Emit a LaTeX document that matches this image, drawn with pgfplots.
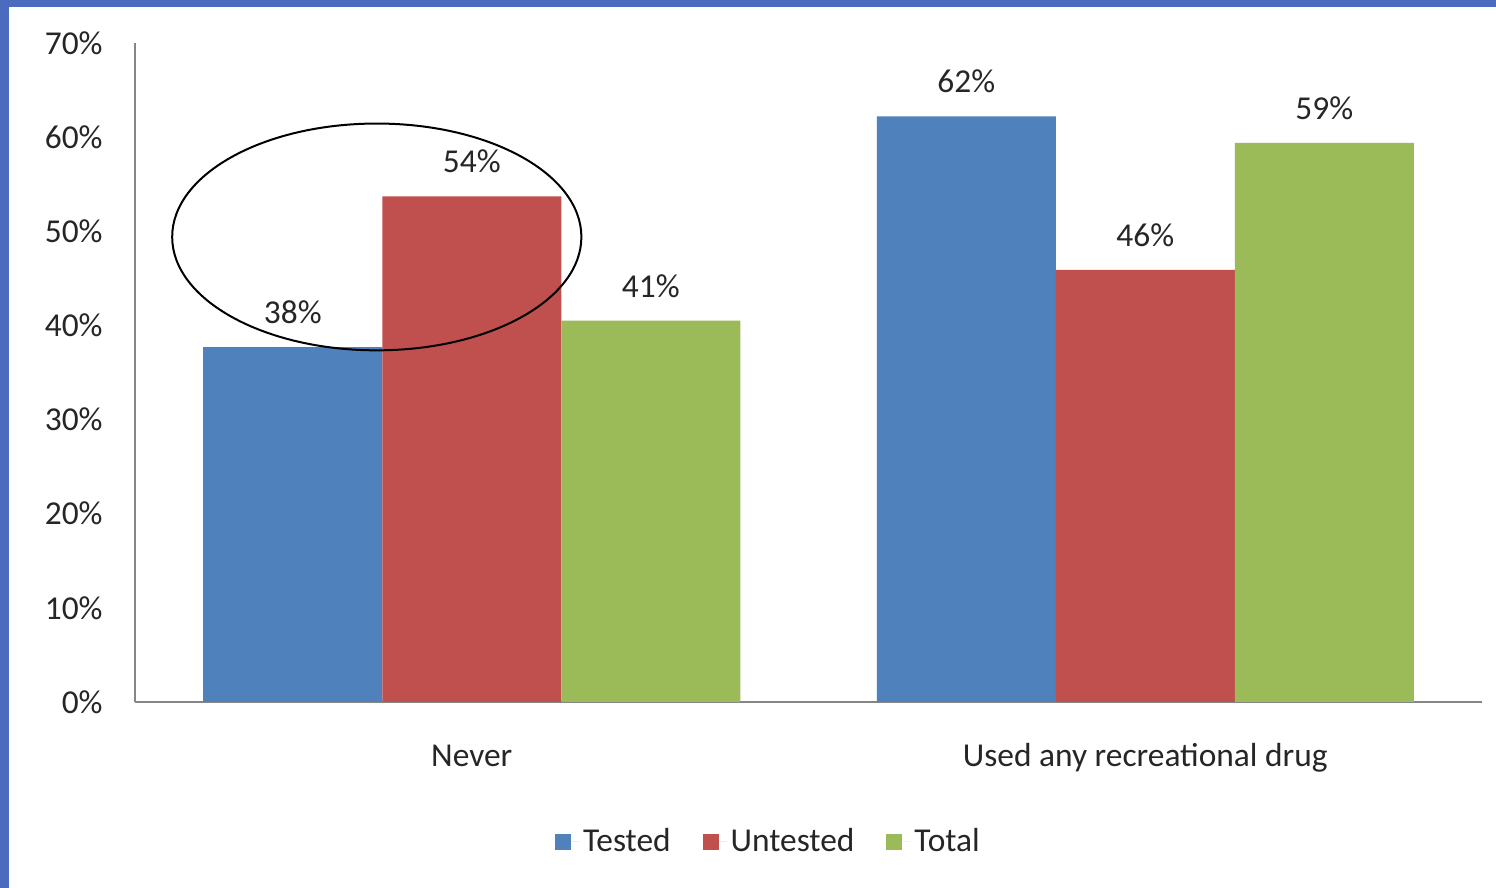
\documentclass[border=0pt]{standalone}
\usepackage{pgfplots}
\pgfplotsset{compat=1.18}
\usepackage{pgfplotstable}
\usepackage{fontspec}
\setmainfont{Carlito}
\definecolor{cTested}{HTML}{4F81BD}
\definecolor{cUntested}{HTML}{C0504D}
\definecolor{cTotal}{HTML}{9BBB59}
\definecolor{frameblue}{HTML}{4A6BBE}
\definecolor{axgray}{HTML}{868686}
\definecolor{txt}{HTML}{262626}

\pgfplotstableread{
x y lab
0 37.7 38
1 62.2 62
}\tested
\pgfplotstableread{
x y lab
0 53.7 54
1 45.9 46
}\untested
\pgfplotstableread{
x y lab
0 40.5 41
1 59.4 59
}\total

\begin{document}
\begin{tikzpicture}
\useasboundingbox (0,0) rectangle (748pt,444pt);
\fill[white] (0,0) rectangle (748pt,444pt);
\fill[frameblue] (0,440.5pt) rectangle (748pt,444pt);
\fill[frameblue] (0,0) rectangle (4.6pt,444pt);
\begin{axis}[
  at={(67.5pt,93pt)}, anchor=south west,
  scale only axis, width=673.5pt, height=329.5pt,
  xmin=-0.5, xmax=1.5, ymin=0, ymax=70,
  axis lines=left,
  axis line style={draw=axgray, line width=0.8pt, -},
  major tick length=0pt,
  ytick={0,10,...,70},
  yticklabel={\pgfmathprintnumber{\tick}\%},
  yticklabel style={anchor=east, inner sep=0pt, xshift=-16pt},
  xtick={0,1},
  xticklabels={Never, Used any recreational drug},
  xticklabel style={anchor=base, inner sep=0pt, yshift=-32.5pt},
  /pgf/number format/assume math mode=true,
  ticklabel style={font=\fontsize{16.7}{20}\selectfont, text=txt},
  ybar=0pt, bar width=89.5pt,
  point meta=explicit,
  nodes near coords={\pgfmathprintnumber[fixed,precision=0]{\pgfplotspointmeta}\%},
  every node near coord/.append style={font=\fontsize{16.7}{20}\selectfont, text=txt, inner sep=0pt, yshift=11.5pt},
  legend style={draw=none, fill=none, at={(0.471,-0.212)}, anchor=center,
    font=\fontsize{16.7}{20}\selectfont, text=txt,
    /tikz/every even column/.append style={column sep=14pt}},
  legend columns=3,
  legend image code/.code={\fill[#1,/tikz/.cd,draw=none] (0pt,-4pt) rectangle (8pt,4pt); \path (0pt,0pt) -- (12pt,0pt);},
]
\addplot[fill=cTested, draw=none] table[x=x, y=y, meta=lab] {\tested};
\addplot[fill=cUntested, draw=none] table[x=x, y=y, meta=lab] {\untested};
\addplot[fill=cTotal, draw=none] table[x=x, y=y, meta=lab] {\total};
\legend{Tested, Untested, Total}
\draw[black, line width=1pt] (axis cs:-0.141,49.4) ellipse [x radius=102.3pt, y radius=56.7pt];
\end{axis}
\end{tikzpicture}
\end{document}
